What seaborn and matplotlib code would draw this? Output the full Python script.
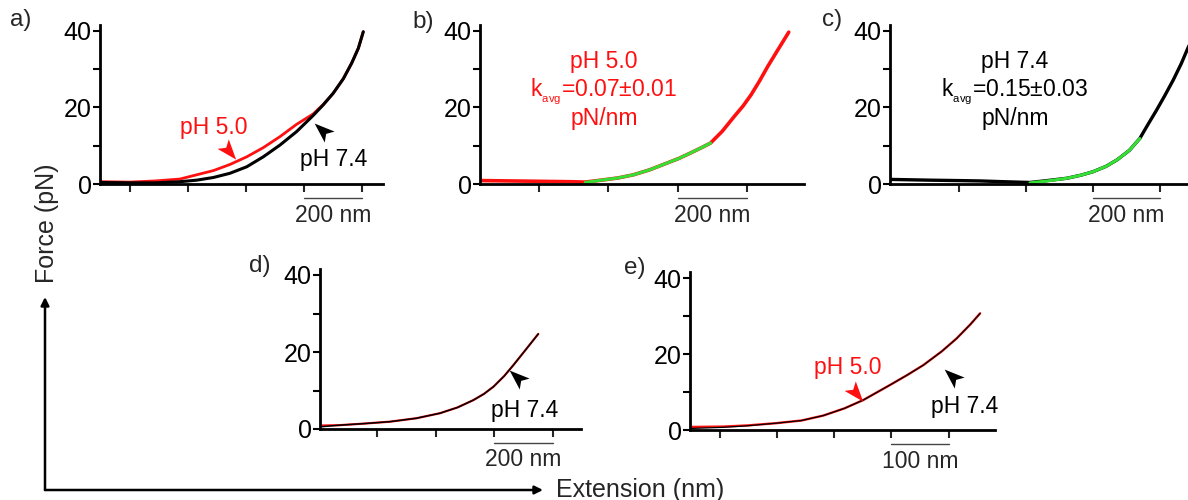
import numpy as np
import matplotlib
matplotlib.use("Agg")
import matplotlib.pyplot as plt
import seaborn as sns
from matplotlib.path import Path
from matplotlib.patches import FancyArrowPatch
from matplotlib.transforms import ScaledTranslation

# ---------------- data (extension in nm from axis origin, force in pN) ----------------
a_ext_74 = [0, 103, 190, 276, 333, 391, 448, 506, 563, 621, 678, 735, 770, 804, 839, 868, 891, 908]
a_f_74 = [0.4, 0.3, 0.3, 0.6, 1.0, 1.7, 2.8, 4.5, 7.1, 10.2, 13.7, 17.9, 20.7, 23.7, 27.5, 31.6, 35.5, 39.8]
a_ext_50 = [0, 103, 190, 276, 333, 391, 448, 506, 563, 621, 678, 735, 770, 804, 839, 868, 891, 908]
a_f_50 = [0.6, 0.5, 0.8, 1.3, 2.4, 3.5, 5.1, 7.1, 9.5, 12.4, 15.6, 18.3, 20.8, 23.7, 27.5, 31.6, 35.5, 39.8]

b_ext = [0, 87, 174, 260, 304, 350, 400, 443, 490, 541, 575, 608, 640, 666, 700, 734, 760, 783, 808, 831, 860, 892]
b_f = [0.9, 0.8, 0.7, 0.6, 0.5, 1.0, 1.6, 2.4, 3.7, 5.5, 6.7, 8.1, 9.5, 10.7, 13.8, 17.6, 20.4, 23.3, 27.0, 30.7, 35.0, 39.7]
b_fit_ext = [304, 350, 400, 443, 490, 541, 575, 608, 640, 666]
b_fit_f = [0.4, 1.0, 1.6, 2.4, 3.7, 5.5, 6.7, 8.1, 9.5, 10.7]

c_ext = [0, 60, 119, 200, 269, 340, 418, 470, 528, 570, 606, 645, 678, 715, 746, 770, 796, 820, 846, 870, 890, 905]
c_f = [1.2, 1.1, 1.0, 0.9, 0.8, 0.6, 0.4, 0.9, 1.5, 2.3, 3.2, 4.6, 6.3, 8.8, 11.9, 15.5, 19.3, 23.0, 27.2, 31.5, 35.6, 38.5]
c_fit_ext = [418, 470, 528, 570, 606, 645, 678, 715, 746]
c_fit_f = [0.3, 0.8, 1.5, 2.3, 3.2, 4.6, 6.3, 8.8, 11.9]

d_ext = [0, 6, 68, 150, 239, 330, 410, 470, 524, 560, 593, 630, 661, 700, 746]
d_f_74 = [0.7, 0.6, 1.0, 1.4, 1.9, 2.8, 4.1, 5.6, 7.5, 9.1, 11.0, 13.8, 16.6, 20.3, 24.7]
d_f_50 = [1.0, 0.9, 1.0, 1.4, 1.9, 2.8, 4.1, 5.6, 7.5, 9.1, 11.0, 13.8, 16.6, 20.3, 24.7]

e_ext = [0, 58, 100, 151, 195, 233, 270, 303, 349, 380, 408, 440, 466, 490, 507]
e_f_50 = [0.8, 0.9, 1.2, 1.8, 2.5, 3.8, 5.7, 7.9, 11.8, 14.5, 17.1, 20.7, 24.1, 27.8, 30.7]
e_f_74 = [0.4, 0.7, 1.1, 1.8, 2.5, 3.8, 5.7, 7.9, 11.8, 14.5, 17.1, 20.7, 24.1, 27.8, 30.7]

y_major = [0, 20, 40]
y_minor = [10, 30]

# ---------------- style ----------------
sns.set_theme(style="white")
plt.rcParams["font.family"] = ["Liberation Sans", "DejaVu Sans"]
plt.rcParams["mathtext.fontset"] = "custom"
plt.rcParams["mathtext.rm"] = "Liberation Sans"
plt.rcParams["mathtext.it"] = "Liberation Sans"

RED = "#ff1010"
BLACK = "#000000"
GREEN = "#33e033"
W, H = 1188, 500
FS = 16.5

fig = plt.figure(figsize=(W / 100, H / 100), dpi=100)


def make_ax(left, right, y0, pxper, xmax, xticks):
    ax = fig.add_axes([left / W, (H - y0) / H, (right - left) / W, 41.5 * pxper / H])
    ax.set_xlim(0, xmax)
    ax.set_ylim(0, 41.5)
    for s in ["top", "right"]:
        ax.spines[s].set_visible(False)
    for s in ["left", "bottom"]:
        ax.spines[s].set_linewidth(2.0)
        ax.spines[s].set_color("black")
    ax.set_yticks(y_major)
    ax.set_yticks(y_minor, minor=True)
    ax.set_yticklabels([str(v) for v in y_major])
    ax.set_xticks(xticks)
    ax.set_xticklabels([])
    ax.tick_params(axis="y", which="both", direction="out", length=5, width=1.5,
                   labelsize=18, pad=1, left=True, colors="black")
    ax.tick_params(axis="x", which="both", direction="out", length=6, width=1.5,
                   bottom=True)
    ax.set_xlabel("")
    ax.set_ylabel("")
    ax.patch.set_alpha(0)
    return ax


def scalebar(ax, x0, x1, label):
    off = ScaledTranslation(0, -14 / 100, fig.dpi_scale_trans)
    ax.plot([x0, x1], [0, 0], color="#444444", lw=1.0, clip_on=False,
            transform=ax.transData + off)
    off2 = ScaledTranslation(0, -31 / 100, fig.dpi_scale_trans)
    ax.text((x0 + x1) / 2, 0, label, ha="center", va="center", fontsize=16.5,
            transform=ax.transData + off2)


def arrowhead(ax, x, y, angle_deg, color, size=16):
    pts = np.array([[1.0, 0.0], [-0.7, 0.62], [-0.3, 0.0], [-0.7, -0.62], [1.0, 0.0]])
    t = np.deg2rad(angle_deg)
    R = np.array([[np.cos(t), -np.sin(t)], [np.sin(t), np.cos(t)]])
    pts = pts @ R.T
    codes = [Path.MOVETO, Path.LINETO, Path.LINETO, Path.LINETO, Path.CLOSEPOLY]
    ax.plot([x], [y], marker=Path(pts, codes), markersize=size, color=color,
            markeredgewidth=0, linestyle="none", clip_on=False)


KSUB = r"k$_{_{\mathregular{avg}}}$"
Y_L1, Y_L2, Y_L3 = 32.0, 24.2, 17.1

# ---------------- panel a ----------------
axa = make_ax(100, 383, 184, 3.825, 976, [103, 303, 503, 703, 903])
sns.lineplot(x=a_ext_50, y=a_f_50, ax=axa, color=RED, lw=2.0, sort=False, estimator=None)
sns.lineplot(x=a_ext_74, y=a_f_74, ax=axa, color=BLACK, lw=2.2, sort=False, estimator=None)
axa.text(393, 14.8, "pH 5.0", color=RED, fontsize=FS, ha="center", va="center")
arrowhead(axa, 441, 8.9, -50, RED)
arrowhead(axa, 769, 13.9, 138, BLACK)
axa.text(807, 6.3, "pH 7.4", color=BLACK, fontsize=FS, ha="center", va="center")
scalebar(axa, 703, 903, "200 nm")

# ---------------- panel b ----------------
axb = make_ax(480, 804, 184, 3.825, 936, [171, 371, 571, 771])
sns.lineplot(x=b_ext, y=b_f, ax=axb, color=RED, lw=2.6, sort=False, estimator=None)
sns.lineplot(x=b_fit_ext, y=b_fit_f, ax=axb, color=GREEN, lw=2.2, sort=False, estimator=None)
axb.text(358, Y_L1, "pH 5.0", color=RED, fontsize=FS, ha="center", va="center")
axb.text(358, Y_L2, KSUB + "=0.07±0.01", color=RED, fontsize=FS, ha="center", va="center")
axb.text(358, Y_L3, "pN/nm", color=RED, fontsize=FS, ha="center", va="center")
scalebar(axb, 571, 771, "200 nm")

# ---------------- panel c ----------------
axc = make_ax(890, 1188, 184, 3.825, 890, [206, 406, 606, 806])
sns.lineplot(x=c_ext, y=c_f, ax=axc, color=BLACK, lw=2.4, sort=False, estimator=None)
sns.lineplot(x=c_fit_ext, y=c_fit_f, ax=axc, color=GREEN, lw=2.2, sort=False, estimator=None)
axc.text(373, Y_L1, "pH 7.4", color=BLACK, fontsize=FS, ha="center", va="center")
axc.text(373, Y_L2, KSUB + "=0.15±0.03", color=BLACK, fontsize=FS, ha="center", va="center")
axc.text(373, Y_L3, "pN/nm", color=BLACK, fontsize=FS, ha="center", va="center")
scalebar(axc, 606, 806, "200 nm")

# ---------------- panel d ----------------
axd = make_ax(320, 581, 429, 3.85, 892, [195, 395, 595, 795])
sns.lineplot(x=d_ext, y=d_f_50, ax=axd, color=RED, lw=1.6, sort=False, estimator=None)
sns.lineplot(x=d_ext, y=d_f_74, ax=axd, color=BLACK, lw=1.1, sort=False, estimator=None)
arrowhead(axd, 676, 13.3, 138, BLACK)
axd.text(701, 4.9, "pH 7.4", color=BLACK, fontsize=FS, ha="center", va="center")
scalebar(axd, 595, 795, "200 nm")

# ---------------- panel e ----------------
axe = make_ax(690, 995, 430, 3.8, 533, [52, 152, 252, 352, 452])
sns.lineplot(x=e_ext, y=e_f_50, ax=axe, color=RED, lw=1.7, sort=False, estimator=None)
sns.lineplot(x=e_ext, y=e_f_74, ax=axe, color=BLACK, lw=0.9, sort=False, estimator=None)
axe.text(275, 16.5, "pH 5.0", color=RED, fontsize=FS, ha="center", va="center")
arrowhead(axe, 288, 10.1, -50, RED)
arrowhead(axe, 460, 14.0, 138, BLACK)
axe.text(480, 6.3, "pH 7.4", color=BLACK, fontsize=FS, ha="center", va="center")
scalebar(axe, 352, 452, "100 nm")

# ---------------- panel labels ----------------
for lab, px, py in [("a)", 10, 20), ("b)", 412, 22), ("c)", 822, 20), ("d)", 249, 266), ("e)", 624, 268)]:
    fig.text(px / W, 1 - py / H, lab, fontsize=17.5, ha="left", va="center")

# ---------------- global axis arrows ----------------
corner = (45 / W, 1 - 490 / H)
fig.add_artist(FancyArrowPatch(corner, (45 / W, 1 - 297 / H), transform=fig.transFigure,
                               arrowstyle="-|>", mutation_scale=12, lw=1.8, color="black",
                               shrinkA=0, shrinkB=0))
fig.add_artist(FancyArrowPatch(corner, (543 / W, 1 - 490 / H), transform=fig.transFigure,
                               arrowstyle="-|>", mutation_scale=12, lw=1.8, color="black",
                               shrinkA=0, shrinkB=0))
fig.text(47 / W, 1 - 223 / H, "Force (pN)", rotation=90, fontsize=18, ha="center", va="center")
fig.text(556 / W, 1 - 490 / H, "Extension (nm)", fontsize=18, ha="left", va="center")

fig.savefig("out.png", dpi=100)
